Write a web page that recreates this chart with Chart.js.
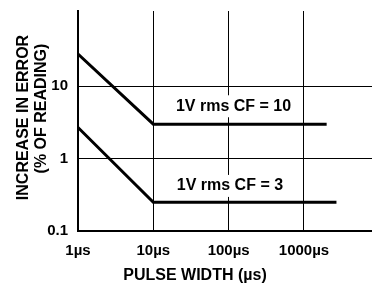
<!DOCTYPE html>
<html>
<head>
<meta charset="utf-8">
<script src="https://cdn.jsdelivr.net/npm/chart.js@4.4.1/dist/chart.umd.min.js"></script>
<style>
  html, body { margin: 0; padding: 0; background: #fff; }
  canvas { display: block; }
</style>
</head>
<body>
<canvas id="chart" width="372" height="285"></canvas>
<script>
// pulse width (µs) and error (% of reading)
const cf10_x = [1, 10, 2000];
const cf10_y = [28, 3.0, 3.0];
const cf3_x = [1, 10, 2700];
const cf3_y = [2.7, 0.25, 0.25];

const xTicks = [1, 10, 100, 1000];
const xTickLabels = ['1µs', '10µs', '100µs', '1000µs'];
const yTicks = [0.1, 1, 10];
const yTickLabels = ['0.1', '1', '10'];

const curveLabels = ['1V rms CF = 10', '1V rms CF = 3'];
const curveLabelX = [116, 104];
const curveLabelY = [5.3, 0.42];

const FONT = '"Liberation Sans", Arial, Helvetica, sans-serif';

const toPoints = (xs, ys) => xs.map((x, i) => ({ x: x, y: ys[i] }));

// curve labels on white boxes + axis titles
const annotate = {
    id: 'annotate',
    afterDatasetsDraw(chart) {
        const { ctx, scales: { x, y } } = chart;
        ctx.save();
        ctx.font = 'bold 16px ' + FONT;
        ctx.textAlign = 'center';
        ctx.textBaseline = 'middle';
        curveLabels.forEach((text, i) => {
            const px = x.getPixelForValue(curveLabelX[i]);
            const py = y.getPixelForValue(curveLabelY[i]);
            const w = ctx.measureText(text).width;
            ctx.fillStyle = '#fff';
            ctx.fillRect(px - w / 2 - 4, py - 11, w + 8, 22);
            ctx.fillStyle = '#000';
            ctx.fillText(text, px, py);
        });

        // x title
        ctx.fillText('PULSE WIDTH (µs)', 195, 276);

        // y title, two lines
        ctx.translate(24, 117.5);
        ctx.rotate(-Math.PI / 2);
        ctx.fillText('INCREASE IN ERROR', 0, 0);
        ctx.fillText('(% OF READING)', 9, 18);
        ctx.restore();
    }
};

function loadGraph() {
    const config = {
        type: 'line',
        data: {
            datasets: [
                {
                    label: '1V rms CF = 10',
                    data: toPoints(cf10_x, cf10_y),
                    borderColor: '#000',
                    borderWidth: 3,
                    pointRadius: 0,
                    tension: 0,
                    fill: false
                },
                {
                    label: '1V rms CF = 3',
                    data: toPoints(cf3_x, cf3_y),
                    borderColor: '#000',
                    borderWidth: 3,
                    pointRadius: 0,
                    tension: 0,
                    fill: false
                }
            ]
        },
        options: {
            responsive: false,
            animation: false,
            layout: {
                padding: { top: 11, left: 0, right: 0, bottom: 0 }
            },
            scales: {
                x: {
                    type: 'logarithmic',
                    min: 1,
                    max: 8000,
                    bounds: 'data',
                    afterBuildTicks: (scale) => {
                        scale.ticks = xTicks.map(v => ({ value: v }));
                    },
                    afterFit: (scale) => {
                        scale.height = 54;
                        scale.paddingLeft = 0;
                        scale.paddingRight = 0;
                    },
                    grid: { color: '#000', lineWidth: 1, drawTicks: false },
                    border: { color: '#000', width: 2 },
                    ticks: {
                        autoSkip: false,
                        maxRotation: 0,
                        padding: 11,
                        color: '#000',
                        font: { family: FONT, size: 15, weight: 'bold' },
                        callback: (value, index) => xTickLabels[index]
                    }
                },
                y: {
                    type: 'logarithmic',
                    min: 0.1,
                    max: 110,
                    bounds: 'data',
                    afterBuildTicks: (scale) => {
                        scale.ticks = yTicks.map(v => ({ value: v }));
                    },
                    afterFit: (scale) => {
                        scale.width = 78;
                        scale.paddingTop = 0;
                        scale.paddingBottom = 0;
                    },
                    grid: { color: '#000', lineWidth: 1, drawTicks: false },
                    border: { color: '#000', width: 2 },
                    ticks: {
                        autoSkip: false,
                        padding: 10,
                        color: '#000',
                        font: { family: FONT, size: 15, weight: 'bold' },
                        callback: (value, index) => yTickLabels[index]
                    }
                }
            },
            plugins: {
                legend: { display: false },
                tooltip: { enabled: false }
            }
        },
        plugins: [annotate]
    };

    const ctx = document.getElementById('chart').getContext('2d');
    new Chart(ctx, config);
}

loadGraph();
</script>
</body>
</html>
